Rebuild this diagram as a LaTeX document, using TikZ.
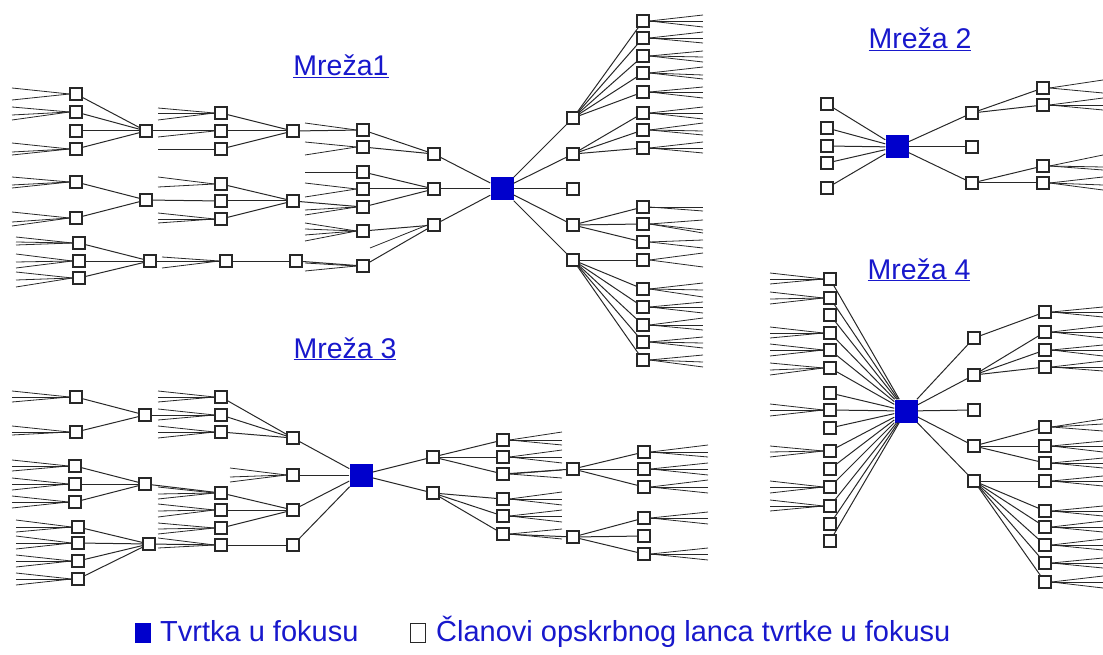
\documentclass[tikz,border=0pt]{standalone}
\usepackage{fontspec}
\setmainfont{Liberation Sans}
\usepackage{xcolor}
\usepackage{tikz}
\usetikzlibrary{positioning}
\definecolor{focusblue}{RGB}{0,0,204}
\definecolor{titleblue}{RGB}{24,24,204}
\definecolor{edgegray}{RGB}{40,40,40}
\tikzset{link/.style={draw=edgegray, line width=1pt}, fan/.style={draw=edgegray, line width=0.8pt}}

% fan of loose lines to the left / right of a node: node, length, y offsets
\newcommand{\fanW}[3]{%
  \foreach \d [count=\k] in {#3} {
    \path (#1) ++(-#2,\d) coordinate (#1-w\k);
    \draw[fan] (#1.west) -- (#1-w\k);
  }}
\newcommand{\fanE}[3]{%
  \foreach \d [count=\k] in {#3} {
    \path (#1) ++(#2,\d) coordinate (#1-e\k);
    \draw[fan] (#1.east) -- (#1-e\k);
  }}

\begin{document}
\begin{tikzpicture}[x=1pt, y=-1pt, mem/.style={draw=edgegray, fill=white, line width=1.2pt, minimum size=12pt, inner sep=0pt}, focus/.style={fill=focusblue, minimum size=23pt, inner sep=0pt}, title/.style={text=titleblue, font=\fontsize{28.5}{30}\selectfont, anchor=base, inner sep=0pt}, keytext/.style={text=titleblue, font=\fontsize{29}{31}\selectfont, anchor=base west, inner sep=0pt}]
    \useasboundingbox (0,0) rectangle (1103,655);

    %Titles
    \node[title](title1) at (341,76){\underline{Mreža1}};
    \node[title](title2) at (920,49){\underline{Mreža 2}};
    \node[title](title3) at (345,358){\underline{Mreža 3}};
    \node[title](title4) at (919,279){\underline{Mreža 4}};

    %Network 1
    \node[focus](f1) at (502,189){};
    \foreach \n/\x/\y in {l1a/434/154, l1b/434/189, l1c/434/225,
        m1/363/130, m2/363/147, m3/363/172, m4/363/189, m5/363/207, m6/363/231, m7/363/266,
        p1/293/131, p2/293/201, p3/296/261,
        q1/221/113, q2/221/131, q3/221/149, q4/221/184, q5/221/201, q6/221/219, q7/226/261,
        r1/146/131, r2/146/200, r3/150/261,
        s1/76/94, s2/76/112, s3/76/131, s4/76/149, s5/76/182, s6/76/218, s7/79/243, s8/79/261, s9/79/278,
        t1/573/118, t2/573/154, t3/573/189, t4/573/225, t5/573/260,
        u1/643/21, u2/643/38, u3/643/56, u4/643/73, u5/643/92, u6/643/113, u7/643/130, u8/643/148,
        u9/643/207, u10/643/224, u11/643/242, u12/643/260, u13/643/289, u14/643/307, u15/643/325, u16/643/342, u17/643/360}
        \node[mem](\n) at (\x,\y){};

    %Network 2
    \node[focus](f2) at (897,147){};
    \foreach \n/\x/\y in {v1/827/104, v2/827/128, v3/827/146, v4/827/163, v5/827/188,
        w1/972/113, w2/972/147, w3/972/183,
        x1/1043/88, x2/1043/105, x3/1043/166, x4/1043/183}
        \node[mem](\n) at (\x,\y){};

    %Network 3
    \node[focus](f3) at (361,475){};
    \foreach \n/\x/\y in {g1/293/438, g2/293/475, g3/293/510, g4/293/545,
        h1/221/397, h2/221/415, h3/221/432, h4/221/493, h5/221/510, h6/221/528, h7/221/545,
        i1/145/415, i2/145/484, i3/149/544,
        j1/76/397, j2/76/432, j3/75/466, j4/75/484, j5/75/502, j6/78/527, j7/78/543, j8/78/561, j9/78/579,
        k1/433/457, k2/433/493,
        n1/503/440, n2/503/457, n3/503/474, n4/503/499, n5/503/516, n6/503/534,
        o1/573/469, o2/573/537,
        e1/644/452, e2/644/469, e3/644/487, e4/644/518, e5/644/536, e6/644/554}
        \node[mem](\n) at (\x,\y){};

    %Network 4
    \node[focus](f4) at (906,411){};
    \foreach \y [count=\i] in {279,298,315,333,350,368,393,410,428,451,469,487,506,524,541}
        \node[mem](y\i) at (830,\y){};
    \foreach \n/\x/\y in {z1/974/338, z2/974/375, z3/974/410, z4/974/446, z5/974/481,
        c1/1045/312, c2/1045/332, c3/1045/350, c4/1045/367, c5/1045/427, c6/1045/446, c7/1045/463,
        c8/1045/481, c9/1045/511, c10/1045/527, c11/1045/545, c12/1045/563, c13/1045/582}
        \node[mem](\n) at (\x,\y){};

    %Legend
    \node[focus, minimum width=16pt, minimum height=20pt](keyfocus) at (143,633){};
    \node[keytext](keyfocustext) at (160,641){Tvrtka u fokusu};
    \node[mem, line width=0.8pt, minimum width=15pt, minimum height=19pt](keymember) at (418,633){};
    \node[keytext](keymembertext) at (436,641){Članovi opskrbnog lanca tvrtke u fokusu};

    %Lines
    \foreach \a/\b in {f1/l1a, f1/l1b, f1/l1c, f1/t1, f1/t2, f1/t3, f1/t4, f1/t5,
        l1a/m1, l1a/m2, l1b/m3, l1b/m4, l1b/m5, l1c/m6, l1c/m7, m1/p1, m5/p2, m7/p3,
        p1/q1, p1/q2, p1/q3, p2/q4, p2/q5, p2/q6, p3/q7, q2/r1, q5/r2, q7/r3,
        r1/s1, r1/s2, r1/s3, r1/s4, r2/s5, r2/s6, r3/s7, r3/s8, r3/s9,
        t1/u1, t1/u2, t1/u3, t1/u4, t1/u5, t2/u6, t2/u7, t2/u8, t4/u9, t4/u10, t4/u11,
        t5/u12, t5/u13, t5/u14, t5/u15, t5/u16, t5/u17,
        f2/v1, f2/v2, f2/v3, f2/v4, f2/v5, f2/w1, f2/w2, f2/w3, w1/x1, w1/x2, w3/x3, w3/x4,
        f3/g1, f3/g2, f3/g3, f3/g4, f3/k1, f3/k2, g1/h1, g1/h2, g1/h3, h2/i1, i1/j1, i1/j2,
        g3/h4, g3/h5, g3/h6, h4/i2, i2/j3, i2/j4, i2/j5, g4/h7, h7/i3, i3/j6, i3/j7, i3/j8, i3/j9,
        k1/n1, k1/n2, k1/n3, k2/n4, k2/n5, k2/n6, n3/o1, n6/o2, o1/e1, o1/e2, o1/e3, o2/e4, o2/e5, o2/e6,
        f4/z1, f4/z2, f4/z3, f4/z4, f4/z5, z1/c1, z2/c2, z2/c3, z2/c4, z4/c5, z4/c6, z4/c7,
        z5/c8, z5/c9, z5/c10, z5/c11, z5/c12, z5/c13}
        \draw[link] (\a) -- (\b);
    \foreach \i in {1,...,15}
        \draw[link] (f4) -- (y\i);

    %Fans, network 1
    \fanW{l1c}{64}{23}
    \fanW{m1}{58}{-7} \fanW{m2}{58}{-5,8} \fanW{m3}{58}{0} \fanW{m4}{58}{-6,8}
    \fanW{m5}{58}{3,8} \fanW{m6}{58}{-8,-2,4,10} \fanW{m7}{58}{-3,5}
    \fanW{q1}{63}{-5,0,7} \fanW{q2}{63}{6} \fanW{q3}{63}{0} \fanW{q4}{63}{-7,3}
    \fanW{q6}{63}{-6,0,4} \fanW{q7}{64}{-4,7}
    \fanW{s1}{64}{-6,6} \fanW{s2}{64}{-5,3,8} \fanW{s4}{64}{-6,3,6} \fanW{s5}{64}{-5,3,6}
    \fanW{s6}{64}{-6,4,8} \fanW{s7}{63}{-6,-1,2} \fanW{s8}{63}{-7,1,7} \fanW{s9}{63}{-6,2,9}
    \fanE{u1}{60}{-6,0,6} \fanE{u2}{60}{-6,0,5} \fanE{u3}{60}{-5,1,6} \fanE{u4}{60}{-6,2,6}
    \fanE{u5}{60}{-5,0,6} \fanE{u6}{60}{-6,0,6} \fanE{u7}{60}{-7,1,5} \fanE{u8}{60}{-6,0,5}
    \fanE{u9}{60}{0,4} \fanE{u10}{60}{-4,6,9} \fanE{u11}{60}{-2,6} \fanE{u12}{60}{-7,7}
    \fanE{u13}{60}{-6,1,8} \fanE{u14}{60}{-5,0,6} \fanE{u15}{60}{-7,0,5} \fanE{u16}{60}{-5,1,6}
    \fanE{u17}{60}{-5,2,7}

    %Fans, network 2
    \fanE{x1}{60}{-8,5} \fanE{x2}{60}{-7,0,5} \fanE{x3}{60}{-11,1,4} \fanE{x4}{60}{-6,2,7}

    %Fans, network 3
    \fanW{g2}{63}{-7,2,7}
    \fanW{h1}{63}{-6,0,5} \fanW{h2}{63}{-6,0,5} \fanW{h3}{63}{-6,0,6} \fanW{h4}{63}{-6,1,6}
    \fanW{h5}{63}{-6,1,7} \fanW{h6}{63}{-5,1,6} \fanW{h7}{63}{-7,3}
    \fanW{j1}{64}{-6,0,5} \fanW{j2}{64}{-6,0,3} \fanW{j3}{63}{-6,0,5} \fanW{j4}{63}{-6,0,6}
    \fanW{j5}{63}{-6,0,6} \fanW{j6}{62}{-7,0,5} \fanW{j7}{62}{-7,0,6} \fanW{j8}{62}{-6,0,6}
    \fanW{j9}{62}{-6,0,6}
    \fanE{n1}{59}{-8,0,5} \fanE{n2}{59}{-7,0,6} \fanE{n3}{59}{-4,4} \fanE{n4}{59}{-7,0,6}
    \fanE{n5}{59}{-6,0,6} \fanE{n6}{59}{-5,5}
    \fanE{e1}{64}{-7,0,5} \fanE{e2}{64}{-6,0,6} \fanE{e3}{64}{-7,0,6} \fanE{e4}{64}{-6,0,6}
    \fanE{e6}{64}{-6,0,6}

    %Fans, network 4
    \fanW{y1}{60}{-6,0,5} \fanW{y2}{60}{-6,1,6} \fanW{y4}{60}{-6,0,5} \fanW{y5}{60}{-6,0,6}
    \fanW{y6}{60}{-5,2,7} \fanW{y8}{60}{-6,0,6} \fanW{y10}{60}{-5,1,6} \fanW{y12}{60}{-6,0,6}
    \fanW{y13}{60}{-6,0,5}
    \fanE{c1}{58}{-5,0,5} \fanE{c2}{58}{-6,0,6} \fanE{c3}{58}{-5,0,6} \fanE{c4}{58}{-6,0,4}
    \fanE{c5}{58}{-8,-3,4} \fanE{c6}{58}{-5,0,6} \fanE{c7}{58}{-5,0,5} \fanE{c8}{58}{-5,0,5}
    \fanE{c9}{58}{-5,0,5} \fanE{c10}{58}{-6,0,5} \fanE{c11}{58}{-6,0,5} \fanE{c12}{58}{-5,0,5}
    \fanE{c13}{58}{-6,0,6}

\end{tikzpicture}
\end{document}
